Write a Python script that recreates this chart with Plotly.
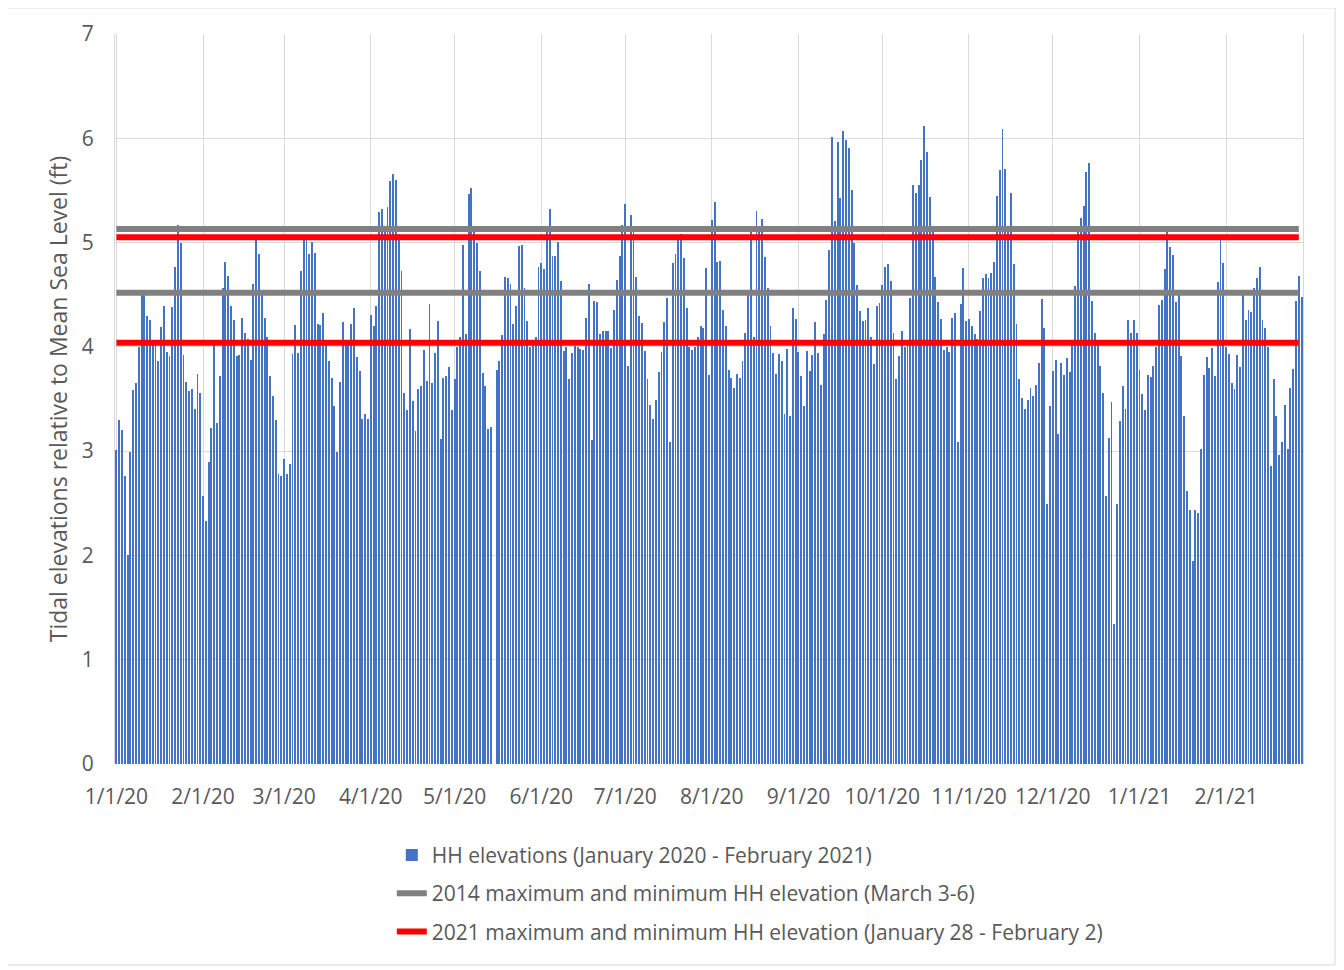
import pandas as pd
import plotly.graph_objects as go

# Daily higher-high (HH) tidal elevations, Jan 1 2020 - Feb 28 2021 (ft, relative to MSL)
dates = pd.date_range("2020-01-01", "2021-02-28", freq="D")

hh_jan_feb20 = [3.01, 3.30, 3.20, 2.76, 2.00, 2.99, 3.59, 3.65, 4.00, 4.50, 4.50, 4.30, 4.26, 4.04, 4.07,
                3.86, 4.19, 4.39, 3.95, 3.91, 4.38, 4.77, 5.17, 5.00, 3.92, 3.66, 3.58, 3.60, 3.40, 3.74,
                3.56, 2.57, 2.33, 2.90, 3.22,
                4.07, 3.27, 3.72, 4.56, 4.81, 4.68, 4.39, 4.26, 3.91, 3.92, 4.28, 4.13, 4.08, 3.87, 4.60,
                5.02, 4.89, 4.50, 4.28, 4.09, 3.72, 3.53, 3.30, 2.78, 2.76, 2.92, 2.78, 2.88, 3.93, 4.21,
                3.94, 4.73, 5.02, 5.02, 4.89, 5.01]
hh_mar_may20 = [4.90, 4.22, 4.21, 4.32, 4.07, 3.86, 3.70, 3.43, 2.99, 3.66, 4.24, 4.05, 4.07, 4.22, 4.37,
                3.90, 3.77, 3.31, 3.36, 3.31, 4.31, 4.20, 4.39, 5.29, 5.32, 5.15, 5.34, 5.59, 5.66, 5.60,
                5.08, 4.73, 3.56, 3.39, 4.17,
                3.48, 3.19, 3.60, 3.62, 3.97, 3.67, 4.41, 3.65, 3.94, 4.25, 3.12, 3.70, 3.72, 3.81, 3.39,
                3.69, 4.00, 4.09, 4.98, 4.12, 5.47, 5.52, 5.10, 5.00, 4.73, 3.75, 3.62, 3.21, 3.23, None,
                3.78, 3.86, 4.11, 4.67, 4.66, 4.60]
hh_may_jul20 = [4.22, 4.39, 4.97, 4.98, 4.56, 4.25, 4.00, 4.02, 4.09, 4.77, 4.80, 4.75, 5.10, 5.32, 4.87,
                4.87, 5.01, 4.63, 3.96, 4.00, 3.69, 3.94, 4.01, 4.00, 3.98, 3.97, 4.28, 4.60, 3.11, 4.44,
                4.43, 4.12, 4.15, 4.15, 4.15, 3.99,
                4.35, 4.64, 4.87, 5.17, 5.37, 3.82, 5.26, 5.11, 4.67, 4.30, 4.23, 3.96, 3.69, 3.44, 3.31,
                3.49, 3.76, 3.95, 4.24, 4.47, 3.09, 4.80, 4.89, 5.03, 5.08, 4.85, 4.37, 4.00, 3.97, 4.00,
                4.09, 4.20, 4.18, 4.76, 3.73, 5.22]
hh_aug_oct20 = [5.39, 4.81, 4.82, 4.35, 4.20, 3.78, 3.70, 3.61, 3.74, 3.70, 3.86, 4.13, 4.50, 5.11, 4.09,
                5.30, 5.10, 5.23, 4.86, 4.56, 4.20, 3.94, 3.74, 3.93, 3.86, 3.36, 3.98, 3.34, 4.37, 4.27,
                3.95, 3.72, 3.43, 3.96, 3.77,
                3.92, 4.24, 3.94, 3.63, 4.12, 4.45, 4.93, 6.01, 5.21, 5.96, 5.43, 6.07, 5.98, 5.91, 5.50,
                5.00, 4.59, 4.34, 4.25, 4.26, 4.37, 4.09, 3.84, 4.39, 4.42, 4.59, 4.77, 4.79, 4.63, 4.13,
                3.69, 3.91, 4.15, 4.00, 4.03, 4.47]
hh_oct_dec20 = [5.55, 5.48, 5.55, 5.79, 6.12, 5.87, 5.44, 5.10, 4.67, 4.43, 4.27, 3.97, 4.00, 3.95, 4.28,
                4.32, 3.09, 4.41, 4.76, 4.25, 4.27, 4.20, 4.12, 4.08, 4.34, 4.66, 4.70, 4.66, 4.71, 4.81,
                5.45, 5.70, 6.09, 5.71, 5.10, 5.48,
                4.79, 4.22, 3.69, 3.51, 3.40, 3.49, 3.61, 3.53, 3.63, 3.85, 4.46, 4.18, 2.49, 3.43, 3.77,
                3.87, 3.16, 3.85, 3.73, 3.89, 3.76, 4.07, 4.58, 5.10, 5.24, 5.35, 5.68, 5.76, 4.44, 4.13,
                4.07, 3.82, 3.56, 2.57, 3.13, 3.47]
hh_dec20_feb21 = [1.34, 2.49, 3.29, 3.62, 3.40, 4.26, 4.13, 4.26, 4.13, 3.78, 3.55, 3.39, 3.73, 3.71, 3.82,
                  4.00, 4.40, 4.45, 4.75, 5.11, 4.96, 4.88, 4.43, 4.50, 3.91, 3.34, 2.62, 2.44, 1.95, 2.44,
                  2.41, 3.02, 3.73, 3.90, 3.80,
                  3.99, 3.72, 4.62, 5.02, 4.80, 4.00, 3.93, 3.65, 3.60, 3.92, 3.81, 4.50, 4.26, 4.35, 4.33,
                  4.56, 4.66, 4.77, 4.26, 4.18, 4.00, 2.86, 3.69, 3.34, 2.96, 3.09, 3.44, 3.02, 3.61, 3.79,
                  4.44, 4.68, 4.48]

hh_values = hh_jan_feb20 + hh_mar_may20 + hh_may_jul20 + hh_aug_oct20 + hh_oct_dec20 + hh_dec20_feb21

# Reference elevations (ft)
hh_2014_max, hh_2014_min = 5.13, 4.52
hh_2021_max, hh_2021_min = 5.05, 4.04

names = ["HH elevations (January 2020 - February 2021)",
         "2014 maximum and minimum HH elevation (March 3-6)",
         "2021 maximum and minimum HH elevation (January 28 - February 2)"]

BLUE, GRAY, RED = "#4472C4", "#808080", "#FF0000"
TXT = "#595959"
FONT = "Open Sans"

fig = go.Figure()
fig.add_trace(go.Bar(x=dates, y=hh_values, name=names[0], marker_color=BLUE,
                     marker_line_width=0, width=0.33 * 86400000, legendgroup="a"))

line_x = [dates[0], dates[-2]]
for i, v in enumerate([hh_2014_max, hh_2014_min]):
    fig.add_trace(go.Scatter(x=line_x, y=[v, v], mode="lines", name=names[1],
                             line=dict(color=GRAY, width=6), legendgroup="b",
                             showlegend=(i == 0)))
for i, v in enumerate([hh_2021_max, hh_2021_min]):
    fig.add_trace(go.Scatter(x=line_x, y=[v, v], mode="lines", name=names[2],
                             line=dict(color=RED, width=6), legendgroup="c",
                             showlegend=(i == 0)))

fig.update_layout(
    width=1336, height=962,
    margin=dict(l=107, r=41, t=26, b=206),
    paper_bgcolor="white", plot_bgcolor="white",
    font=dict(family=FONT, size=21, color=TXT),
    bargap=0,
    showlegend=True,
    legend=dict(x=0.233, y=-0.097, xanchor="left", yanchor="top",
                orientation="v", traceorder="grouped", tracegroupgap=8,
                font=dict(family=FONT, size=21, color=TXT),
                bgcolor="rgba(0,0,0,0)"),
    xaxis=dict(type="date", range=["2019-12-31 12:00", "2021-02-28 12:00"],
               dtick="M1", tick0="2020-01-01", tickformat="%-m/%-d/%y",
               showgrid=True, gridcolor="#D9D9D9", gridwidth=1,
               ticks="", ticklabelstandoff=18,
               tickfont=dict(family=FONT, size=21, color=TXT),
               showline=False, zeroline=False),
    yaxis=dict(range=[0, 7], dtick=1, showgrid=True, gridcolor="#D9D9D9", gridwidth=1,
               zeroline=False, showline=True, mirror=True, linecolor="#D9D9D9", linewidth=1,
               ticks="", ticklabelstandoff=16,
               tickfont=dict(family=FONT, size=21, color=TXT),
               title=dict(text="Tidal elevations relative to Mean Sea Level (ft)",
                          font=dict(family=FONT, size=23, color=TXT), standoff=7)),
    shapes=[dict(type="rect", xref="paper", yref="paper",
                 x0=-0.0926, x1=1.027, y0=-0.2753, y1=1.0356,
                 line=dict(color="#D9D9D9", width=1), fillcolor="rgba(0,0,0,0)", layer="below")],
)

fig.write_html("out.html")
